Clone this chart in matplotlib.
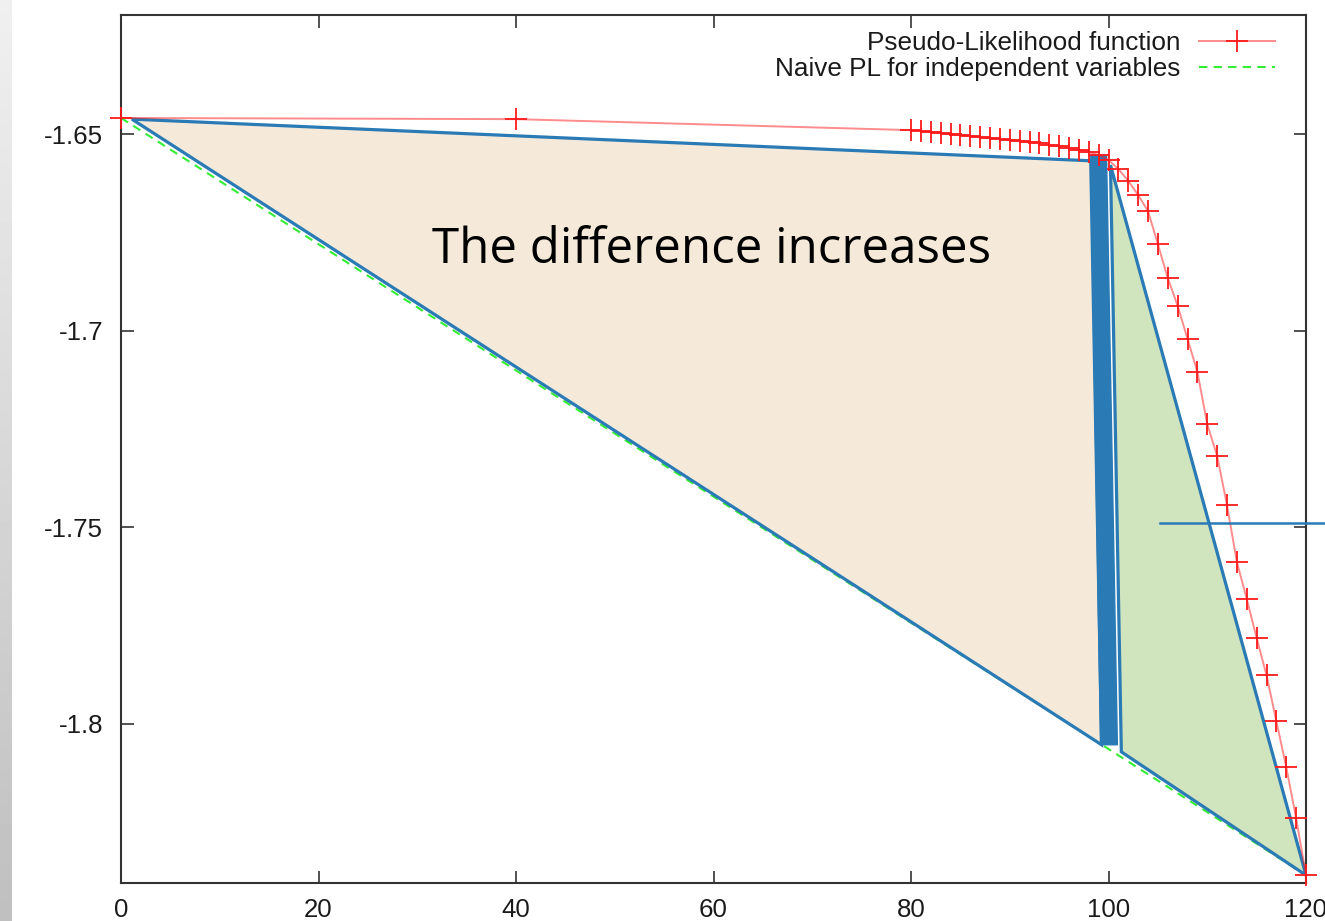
import matplotlib
matplotlib.use("Agg")
import matplotlib.pyplot as plt
import numpy as np
from matplotlib.patches import Polygon

plt.rcParams["axes.unicode_minus"] = False

# ------------------------------------------------------------------------------
# Data
pl_x = [0, 40, 80, 81, 82, 83, 84, 85, 86, 87, 88, 89, 90, 91, 92, 93, 94, 95,
        96, 97, 98, 99, 100, 101, 102, 103, 104, 105, 106, 107, 108, 109, 110,
        111, 112, 113, 114, 115, 116, 117, 118, 119, 120]
pl_y = [-1.6458, -1.6461, -1.6489, -1.6491, -1.6494, -1.6496, -1.6499, -1.6501,
        -1.6504, -1.6506, -1.6509, -1.6511, -1.6514, -1.6517, -1.6519, -1.6522,
        -1.6527, -1.6529, -1.6534, -1.6539, -1.6545, -1.6552, -1.6565, -1.6588,
        -1.6618, -1.6654, -1.6695, -1.6779, -1.6865, -1.6936, -1.7020, -1.7104,
        -1.7237, -1.7318, -1.7443, -1.7588, -1.7682, -1.7781, -1.7876, -1.7993,
        -1.8110, -1.8240, -1.8385]

naive_x = [0, 120]
naive_y = [-1.6458, -1.8385]

x_ticks = [0, 20, 40, 60, 80, 100, 120]
y_ticks = [-1.8, -1.75, -1.7, -1.65]
y_tick_labels = ["-1.8", "-1.75", "-1.7", "-1.65"]

labels = ["Pseudo-Likelihood function", "Naive PL for independent variables"]
note = "The difference increases"

# slide annotation shapes (data coordinates)
beige_pts = [(1.1, -1.6461), (98.2, -1.6567), (99.3, -1.8053)]
bar_pts = [(98.2, -1.6552), (99.8, -1.6552), (100.9, -1.8053), (99.2, -1.8053)]
green_pts = [(100.2, -1.6578), (101.3, -1.8071), (120.0, -1.8385)]
hline_x = [105.2, 122.0]
hline_y = [-1.7488, -1.7488]

# ------------------------------------------------------------------------------
# Figure
fig = plt.figure(figsize=(13.25, 9.21), dpi=100)

# grey slide strip on the left edge
strip = fig.add_axes([0, 0, 12 / 1325, 1])
grad = np.linspace(0.94, 0.75, 256).reshape(-1, 1)
strip.imshow(grad, aspect="auto", cmap="gray", vmin=0, vmax=1)
strip.axis("off")

ax = fig.add_axes([121 / 1325, 38.3 / 921, (1306 - 121) / 1325, (906 - 38.3) / 921])

blue = "#2a7ab5"
txt_col = "#1a1a1a"

# gnuplot curves
ax.plot(pl_x, pl_y, color=(1, 0.1, 0.1, 0.5), lw=1.4, marker="+", markersize=16,
        mec="#ff1a1a", mew=1.3, clip_on=False, zorder=5, label=labels[0])
ax.plot(naive_x, naive_y, color="#33ee33", lw=1.5, ls=(0, (4, 3)),
        zorder=2, label=labels[1])

# slide overlays
ax.add_patch(Polygon(beige_pts, closed=True, facecolor="#f5eada",
                     edgecolor=blue, lw=2.3, zorder=3, joinstyle="miter"))
ax.add_patch(Polygon(bar_pts, closed=True, facecolor=blue,
                     edgecolor=blue, lw=1, zorder=4))
ax.add_patch(Polygon(green_pts, closed=True, facecolor="#d0e4be",
                     edgecolor=blue, lw=2.3, zorder=3, joinstyle="miter"))
ax.plot(hline_x, hline_y, color=blue, lw=1.8, clip_on=False, zorder=6)

ax.text(59.8, -1.6795, note, fontsize=35.5, family="Open Sans", color="black",
        ha="center", va="center", zorder=7)

ax.set_xlim(0, 120)
ax.set_ylim(-1.8404, -1.6196)
ax.set_xticks(x_ticks)
ax.set_xticklabels([str(v) for v in x_ticks])
ax.set_yticks(y_ticks)
ax.set_yticklabels(y_tick_labels)

ax.tick_params(direction="in", length=9, width=1.2, color="#333333",
               top=True, right=True, labelsize=18.6, labelcolor=txt_col)
ax.tick_params(axis="y", pad=13)
ax.tick_params(axis="x", pad=11)
for lab in ax.get_xticklabels() + ax.get_yticklabels():
    lab.set_family("Liberation Sans")
for sp in ax.spines.values():
    sp.set_color("#333333")
    sp.set_linewidth(1.5)

leg = ax.legend(loc="upper right", bbox_to_anchor=(0.989, 1.003), frameon=False,
                markerfirst=False, handlelength=2.9, handletextpad=0.7,
                labelspacing=0.08, borderaxespad=0.3,
                prop={"family": "Liberation Sans", "size": 18.8})
for t in leg.get_texts():
    t.set_color(txt_col)

fig.savefig("out.png", dpi=100)
